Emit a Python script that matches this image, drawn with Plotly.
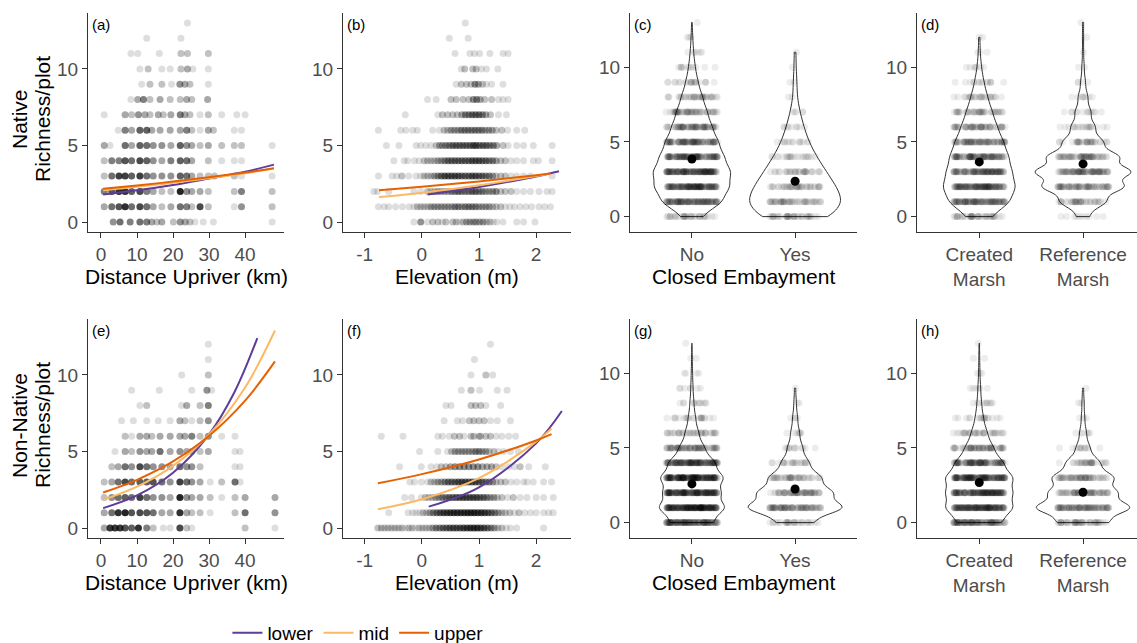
import numpy as np
import plotly.graph_objects as go

# ======================= DATA =======================
# Scatter panels: one list per richness value (index = richness 0, 1, 2, ...);
# each entry = (predictor value, number of overlapping plots at that spot)

# (a) Native richness vs distance upriver (km)
native_dist = [
    [(3.4,4),(5.3,6),(8.1,5),(10.8,6),(12.7,5),(14.1,3),(15.5,2),(16.9,3),(20.1,2),(22.0,4),(23.4,3),(24.7,2),(26.1,1),(28.4,1),(31.2,1),(47.5,1)],
    [(0.9,3),(3.0,6),(5.0,8),(6.7,12),(8.5,6),(10.8,9),(12.7,6),(14.5,3),(16.9,2),(19.4,3),(22.0,6),(23.8,5),(25.2,2),(27.5,9),(29.8,2),(37.0,1),(39.0,4),(47.5,2)],
    [(0.9,5),(3.0,8),(5.0,12),(6.7,12),(8.5,7),(10.8,9),(12.7,5),(14.5,3),(16.9,2),(19.4,2),(22.0,14),(23.8,4),(25.2,3),(27.5,3),(29.8,2),(37.0,2),(39.0,5),(47.5,2)],
    [(0.9,2),(3.0,6),(5.0,10),(6.7,10),(8.5,7),(10.8,10),(12.7,6),(14.5,4),(16.9,4),(19.4,4),(22.0,7),(23.8,6),(25.2,3),(27.5,2),(29.8,2),(31.5,2),(37.0,2),(39.0,1),(47.5,1)],
    [(0.9,2),(3.0,5),(5.0,5),(6.7,8),(8.5,6),(10.8,9),(12.7,7),(14.5,4),(16.9,3),(19.4,5),(22.0,7),(23.8,6),(25.2,3),(29.8,2),(33.5,1),(37.0,1),(39.0,1)],
    [(0.9,3),(2.5,1),(6.7,6),(8.5,3),(10.8,7),(12.7,6),(14.5,4),(16.9,4),(19.4,3),(22.0,7),(23.8,4),(25.2,3),(27.5,2),(29.8,3),(33.5,2),(37.0,2),(39.0,2),(47.5,1)],
    [(4.8,1),(6.7,5),(8.5,3),(10.8,7),(12.7,7),(14.1,3),(16.4,3),(19.2,3),(22.0,3),(23.8,5),(25.2,2),(27.5,1),(29.8,3),(31.2,2),(37.0,1),(39.0,1)],
    [(0.9,1),(6.7,3),(8.5,2),(10.4,4),(12.2,3),(13.6,2),(15.9,3),(17.3,2),(19.4,3),(22.0,5),(23.3,3),(24.7,2),(27.5,1),(29.8,2),(33.5,1),(37.7,1),(40.0,1)],
    [(8.3,1),(10.2,3),(11.8,5),(13.6,2),(16.4,3),(19.2,2),(22.0,2),(23.8,3),(25.2,2),(29.6,3)],
    [(11.3,1),(13.6,2),(16.9,2),(19.6,1),(21.9,4),(23.3,3),(24.7,2),(29.8,1)],
    [(10.8,1),(13.1,2),(16.9,1),(19.2,1),(22.2,2),(24.0,3),(25.5,1),(29.8,1)],
    [(8.3,1),(10.2,1),(16.2,1),(22.2,2),(24.0,2),(29.8,2)],
    [(12.7,1),(22.2,1)],
    [(24.0,1)],
]

# (b) Native richness vs elevation (cm)
native_elev = [
    [(-14,1),(-2,4),(10,1),(19,2),(28,2),(36,1),(42,2),(54,2),(60,2),(66,1),(72,2),(78,3),(84,3),(90,3),(95,3),(101,3),(107,3),(113,2),(119,2),(125,1),(131,1),(142,1),(166,1),(178,1),(198,1)],
    [(-76,1),(-66,1),(-58,1),(-46,1),(-34,1),(-22,1),(-14,1),(-8,2),(-2,2),(4,2),(10,2),(16,3),(22,3),(28,3),(34,3),(40,3),(46,3),(52,3),(58,4),(64,4),(70,3),(76,4),(82,4),(88,4),(94,4),(100,3),(106,3),(112,3),(118,3),(124,2),(130,2),(138,2),(146,1),(154,1),(162,1),(172,1),(182,1),(192,1),(205,1),(215,1),(225,1)],
    [(-84,1),(-78,1),(-58,1),(-14,1),(-2,1),(10,2),(16,2),(22,2),(28,3),(34,3),(40,3),(46,3),(52,4),(58,4),(64,5),(70,4),(76,4),(82,4),(88,5),(94,5),(100,4),(106,4),(112,3),(118,3),(124,3),(130,4),(138,2),(146,2),(156,2),(166,1),(178,1),(190,1),(205,1),(219,1),(228,1)],
    [(-76,1),(-52,1),(-44,1),(-35,2),(-23,1),(-10,1),(-2,1),(4,2),(10,2),(16,2),(22,3),(28,4),(34,5),(40,6),(46,6),(52,6),(58,6),(64,6),(70,5),(76,5),(82,5),(88,6),(94,6),(100,5),(106,5),(112,4),(118,4),(124,3),(130,2),(138,2),(146,2),(156,1),(166,1),(178,1),(190,1),(228,1)],
    [(-49,1),(-31,1),(-25,1),(-13,1),(-5,1),(4,2),(10,2),(16,2),(22,2),(28,3),(34,3),(40,4),(46,5),(52,5),(58,5),(64,5),(70,5),(76,5),(82,5),(88,6),(94,6),(100,6),(106,5),(112,5),(118,4),(124,4),(130,3),(138,2),(146,2),(156,1),(166,1),(178,1),(195,1),(204,1),(228,1)],
    [(-62,1),(-40,1),(-10,1),(-2,1),(7,1),(16,1),(25,2),(31,3),(36,3),(42,4),(48,4),(54,5),(60,5),(66,5),(72,5),(78,5),(84,5),(90,6),(95,6),(101,5),(107,5),(113,5),(119,4),(125,4),(131,3),(142,2),(151,1),(166,1),(178,1),(195,1),(228,1)],
    [(-76,1),(-37,1),(-28,1),(-16,1),(-8,1),(19,1),(31,1),(39,2),(45,2),(51,3),(57,3),(63,3),(69,4),(75,4),(81,4),(87,4),(93,4),(99,4),(105,4),(111,3),(117,3),(123,3),(130,2),(140,2),(150,1),(166,1),(180,1)],
    [(-29,1),(28,1),(36,2),(45,2),(54,2),(62,2),(70,3),(76,4),(82,4),(88,5),(94,5),(100,5),(106,4),(112,3),(120,2),(134,1),(148,1)],
    [(10,1),(25,1),(51,2),(60,2),(72,2),(82,2),(90,4),(96,4),(102,3),(110,2),(122,2),(134,1),(142,1),(151,1)],
    [(60,1),(69,2),(78,2),(86,2),(93,4),(99,3),(106,2),(113,1),(122,1),(142,1)],
    [(69,1),(75,2),(89,2),(95,2),(104,1),(113,1),(133,1)],
    [(58,1),(84,1),(92,1),(101,1),(119,1),(142,1),(151,1)],
    [(48,1),(81,1)],
    [(76,1)],
]

# (e) Non-native richness vs distance upriver (km)
nonnative_dist = [
    [(0.9,3),(2.5,11),(3.9,11),(5.3,11),(6.7,8),(8.5,7),(10.4,12),(12.7,5),(14.5,2),(17.3,1),(19.2,1),(21.9,9),(23.8,2),(25.2,1),(40.0,2),(48.3,1)],
    [(0.9,3),(3.0,6),(4.8,12),(6.7,14),(8.5,8),(10.8,9),(12.7,8),(14.5,6),(16.9,3),(19.2,3),(21.9,12),(23.8,3),(25.2,2),(27.5,2),(30.3,1),(37.2,2),(40.0,6),(48.3,4)],
    [(0.9,2),(3.0,4),(4.8,6),(6.7,7),(8.5,6),(10.8,10),(12.7,6),(14.5,4),(16.9,4),(19.2,3),(21.9,14),(23.8,4),(25.2,3),(27.5,3),(30.3,2),(33.5,1),(37.2,2),(40.0,3),(48.3,3)],
    [(0.9,2),(3.0,3),(4.8,6),(6.7,9),(8.5,6),(10.8,7),(12.7,7),(14.5,8),(16.9,6),(19.2,4),(21.9,10),(23.8,6),(25.2,4),(27.5,3),(30.3,1),(33.5,2),(37.2,6),(38.6,1)],
    [(3.0,2),(4.8,3),(6.7,6),(8.5,4),(10.8,9),(12.7,6),(14.5,4),(16.9,4),(19.2,3),(21.9,6),(23.8,4),(25.2,4),(27.5,2),(37.2,1),(38.6,1)],
    [(3.9,1),(6.7,3),(8.5,2),(10.8,4),(12.7,3),(14.1,3),(16.4,6),(19.2,3),(21.9,4),(23.8,3),(25.2,3),(27.5,2),(29.8,3),(37.2,1),(38.6,1)],
    [(6.7,2),(8.5,1),(10.8,3),(12.7,3),(14.1,2),(16.4,3),(19.2,3),(21.9,3),(23.3,3),(25.2,5),(27.5,2),(29.8,4),(33.5,1),(37.2,1)],
    [(5.7,1),(9.0,1),(12.7,1),(15.9,1),(19.2,1),(21.9,3),(23.3,2),(25.2,1),(27.5,2),(29.8,4)],
    [(10.8,1),(12.7,2),(22.4,1),(23.8,3),(27.5,2),(29.8,5)],
    [(8.5,1),(16.2,1),(25.2,1),(29.4,4),(30.7,1)],
    [(22.4,1),(29.8,2)],
    [(29.8,1)],
    [(29.8,1)],
]

# (f) Non-native richness vs elevation (cm)
nonnative_elev = [
    [(-77,2),(-71,2),(-65,2),(-59,2),(-53,2),(-47,2),(-41,2),(-35,2),(-29,1),(-23,2),(-17,2),(-11,1),(-5,2),(1,2),(7,2),(13,2),(19,3),(25,4),(31,4),(37,5),(43,5),(49,6),(55,6),(61,6),(67,6),(73,7),(79,7),(85,8),(91,8),(97,8),(103,7),(109,6),(115,5),(121,4),(127,3),(133,2),(140,2),(148,1),(155,1),(166,1),(213,1)],
    [(-58,1),(-24,1),(-16,1),(-10,1),(-4,1),(2,2),(8,2),(14,3),(20,4),(26,5),(32,6),(38,7),(44,7),(50,8),(56,8),(62,8),(68,8),(74,8),(80,9),(86,9),(92,9),(98,8),(104,8),(110,7),(116,6),(122,5),(128,4),(134,3),(140,2),(146,2),(154,2),(162,1),(170,2),(180,1),(190,1),(200,1),(213,1),(222,1),(230,1)],
    [(-30,1),(-18,1),(-1,1),(6,2),(12,2),(18,2),(24,3),(30,3),(36,4),(42,4),(48,5),(54,5),(60,6),(66,6),(72,6),(78,6),(84,6),(90,6),(96,6),(102,5),(108,5),(114,4),(120,3),(126,3),(132,2),(140,2),(150,1),(160,2),(172,1),(184,1),(200,1),(213,1),(230,1)],
    [(-21,1),(-13,1),(-1,1),(10,1),(16,2),(22,2),(28,3),(34,3),(40,4),(46,5),(52,5),(58,5),(64,6),(70,6),(76,6),(82,6),(88,6),(94,6),(100,5),(106,5),(112,4),(118,4),(124,3),(130,2),(138,2),(146,2),(156,1),(166,1),(178,1),(184,1),(195,1),(213,1),(227,1)],
    [(-39,1),(-1,1),(16,1),(26,1),(34,2),(42,2),(50,3),(58,4),(66,4),(74,4),(82,4),(90,4),(98,4),(106,3),(114,3),(122,3),(130,2),(140,1),(152,1),(162,1),(172,2),(187,1),(216,1)],
    [(-4,1),(28,1),(45,1),(52,2),(58,3),(64,3),(70,3),(76,3),(82,3),(88,3),(94,4),(100,4),(106,3),(112,3),(118,2),(126,2),(134,1),(143,1),(155,1),(169,1)],
    [(-71,1),(-33,1),(28,1),(36,1),(48,1),(57,2),(66,2),(74,1),(86,2),(91,2),(100,2),(103,2),(112,2),(120,2),(130,1),(140,1),(152,1),(164,1)],
    [(39,1),(62,1),(71,1),(83,2),(91,2),(100,2),(109,2),(120,1),(132,1),(155,1)],
    [(42,1),(51,1),(86,2),(94,2),(103,2),(112,1),(138,1)],
    [(69,1),(86,2),(101,1),(132,1),(149,1)],
    [(86,1),(112,2),(124,1)],
    [(92,1)],
    [(120,1)],
]

# Fitted curves
native_dist_x = [0.6, 10, 20, 30, 40, 48.0]
native_dist_lower = [1.80, 2.07, 2.42, 2.84, 3.28, 3.75]
native_dist_mid = [2.08, 2.30, 2.56, 2.86, 3.19, 3.50]
native_dist_upper = [2.17, 2.39, 2.64, 2.92, 3.23, 3.52]

native_elev_x = [-0.75, 0, 1, 2, 2.25]
native_elev_mid = [1.63, 1.92, 2.40, 3.00, 3.17]
native_elev_upper = [2.08, 2.31, 2.65, 3.06, 3.17]
native_elev_lower_x = [0.1, 1, 2, 2.4]
native_elev_lower = [1.80, 2.29, 2.98, 3.32]

nonnative_dist_x = [0.6, 10, 20, 30, 40, 48.3]
nonnative_dist_mid = [1.84, 2.70, 4.06, 6.11, 9.18, 12.9]
nonnative_dist_upper = [2.32, 3.15, 4.35, 6.02, 8.32, 10.88]
nonnative_dist_lower_x = [0.6, 10, 20, 30, 37, 43.4]
nonnative_dist_lower = [1.30, 2.13, 3.61, 6.12, 8.85, 12.4]

nonnative_elev_x = [-0.77, 0, 1, 2, 2.27]
nonnative_elev_mid = [1.23, 1.88, 3.26, 5.64, 6.50]
nonnative_elev_upper = [2.92, 3.52, 4.48, 5.72, 6.13]
nonnative_elev_lower_x = [0.12, 1, 2, 2.45]
nonnative_elev_lower = [1.40, 2.66, 5.53, 7.64]

# Violin panels: number of plots with richness 0, 1, 2, ...
embay_labels = ["No", "Yes"]
marsh_labels = ["Created<br>Marsh", "Reference<br>Marsh"]
dist_ticks = [0, 10, 20, 30, 40]
elev_ticks = [-1, 0, 1, 2]
elev_tick_text = ["-1", "0", "1", "2"]
richness_ticks = [0, 5, 10]
native_embay_no = [35, 110, 135, 140, 115, 95, 72, 55, 38, 22, 12, 6, 3, 1]
native_embay_yes = [38, 50, 42, 32, 22, 14, 9, 5, 2, 2, 1, 1]
native_marsh_created = [40, 100, 118, 105, 95, 78, 58, 42, 27, 15, 7, 3, 2]
native_marsh_reference = [10, 38, 68, 80, 60, 33, 20, 13, 8, 4, 2, 1, 1, 1]
nonnative_embay_no = [130, 200, 170, 190, 140, 75, 40, 22, 12, 7, 4, 2, 1]
nonnative_embay_yes = [28, 78, 60, 42, 22, 12, 7, 4, 2, 1]
nonnative_marsh_created = [100, 150, 145, 150, 105, 62, 35, 18, 10, 6, 3, 2, 1]
nonnative_marsh_reference = [45, 85, 60, 55, 30, 12, 6, 3, 2, 1]
# group means (black dots)
native_embay_mean = [3.86, 2.37]
native_marsh_mean = [3.66, 3.53]
nonnative_embay_mean = [2.59, 2.25]
nonnative_marsh_mean = [2.68, 2.03]

# ======================= STYLE / LAYOUT =======================
W, H = 1137, 643
FONT = "Liberation Sans, Arial, Helvetica, sans-serif"
COL = {"lower": "#5E3C99", "mid": "#FDB863", "upper": "#E66101"}
ALPHA = 0.13
AXC = "#333333"
TICKC = "#4D4D4D"
col_px = [(88, 284), (343, 571), (630, 857), (917, 1137)]
row_px = [(13, 232), (319, 538)]

fig = go.Figure()


def ax_names(i):
    s = "" if i == 1 else str(i)
    return "x" + s, "y" + s


def add_points(levels, scale, i):
    xa, ya = ax_names(i)
    xs, ys, ops = [], [], []
    for r, pts in enumerate(levels):
        for x, n in pts:
            xs.append(x * scale)
            ys.append(r)
            ops.append(1 - (1 - ALPHA) ** n)
    fig.add_trace(go.Scatter(x=xs, y=ys, mode="markers",
                             marker=dict(color="black", size=7, opacity=ops, line=dict(width=0)),
                             xaxis=xa, yaxis=ya, showlegend=False, hoverinfo="skip"))


def add_curve(x, y, grp, i, show=False):
    xa, ya = ax_names(i)
    fig.add_trace(go.Scatter(x=x, y=y, mode="lines", name=grp, legendgroup=grp, showlegend=show,
                             line=dict(color=COL[grp], width=2, shape="spline"),
                             xaxis=xa, yaxis=ya, hoverinfo="skip"))


def add_violin(counts, pos, width, i):
    xa, ya = ax_names(i)
    vals = np.repeat(np.arange(len(counts)), counts).astype(float)
    sd = vals.std(ddof=1)
    q75, q25 = np.percentile(vals, [75, 25])
    bw = 0.9 * min(sd, (q75 - q25) / 1.34) * len(vals) ** (-0.2)
    fig.add_trace(go.Violin(x0=pos, y=vals, width=width, bandwidth=bw, spanmode="hard",
                            scalemode="width", points="all", pointpos=0, jitter=0.50 / width,
                            marker=dict(color="black", opacity=0.07, size=7, line=dict(width=0)),
                            line=dict(color=AXC, width=1), fillcolor="rgba(0,0,0,0)",
                            box_visible=False, meanline_visible=False,
                            xaxis=xa, yaxis=ya, showlegend=False, hoverinfo="skip"))


def add_mean(means, i):
    xa, ya = ax_names(i)
    fig.add_trace(go.Scatter(x=[0, 1], y=means, mode="markers",
                             marker=dict(color="black", size=9), xaxis=xa, yaxis=ya,
                             showlegend=False, hoverinfo="skip"))


# (a)
add_points(native_dist, 1, 1)
add_curve(native_dist_x, native_dist_lower, "lower", 1)
add_curve(native_dist_x, native_dist_mid, "mid", 1)
add_curve(native_dist_x, native_dist_upper, "upper", 1)
# (b)
add_points(native_elev, 0.01, 2)
add_curve(native_elev_lower_x, native_elev_lower, "lower", 2)
add_curve(native_elev_x, native_elev_mid, "mid", 2)
add_curve(native_elev_x, native_elev_upper, "upper", 2)
# (c)
add_violin(native_embay_no, 0, 0.75, 3)
add_violin(native_embay_yes, 1, 0.88, 3)
add_mean(native_embay_mean, 3)
# (d)
add_violin(native_marsh_created, 0, 0.69, 4)
add_violin(native_marsh_reference, 1, 0.92, 4)
add_mean(native_marsh_mean, 4)
# (e)
add_points(nonnative_dist, 1, 5)
add_curve(nonnative_dist_lower_x, nonnative_dist_lower, "lower", 5, True)
add_curve(nonnative_dist_x, nonnative_dist_mid, "mid", 5, True)
add_curve(nonnative_dist_x, nonnative_dist_upper, "upper", 5, True)
# (f)
add_points(nonnative_elev, 0.01, 6)
add_curve(nonnative_elev_lower_x, nonnative_elev_lower, "lower", 6)
add_curve(nonnative_elev_x, nonnative_elev_mid, "mid", 6)
add_curve(nonnative_elev_x, nonnative_elev_upper, "upper", 6)
# (g)
add_violin(nonnative_embay_no, 0, 0.63, 7)
add_violin(nonnative_embay_yes, 1, 0.91, 7)
add_mean(nonnative_embay_mean, 7)
# (h)
add_violin(nonnative_marsh_created, 0, 0.65, 8)
add_violin(nonnative_marsh_reference, 1, 0.90, 8)
add_mean(nonnative_marsh_mean, 8)

panel_kind = ["dist", "elev", "embay", "marsh"] * 2
xranges = {"dist": [-3.6, 50.8], "elev": [-1.38, 2.61], "embay": [-0.6, 1.6], "marsh": [-0.6, 1.52]}
layout = dict(width=W, height=H, autosize=False,
              margin=dict(l=0, r=0, t=0, b=0, autoexpand=False),
              paper_bgcolor="white", plot_bgcolor="white", hovermode=False,
              violinmode="overlay", font=dict(family=FONT, color="black"),
              showlegend=True,
              legend=dict(orientation="h", x=0.2, y=1 - 633 / H, xanchor="left", yanchor="middle",
                          font=dict(size=19, color="black"), bgcolor="rgba(0,0,0,0)",
                          itemwidth=30, tracegroupgap=0))
annotations = []
labels = ["(a)", "(b)", "(c)", "(d)", "(e)", "(f)", "(g)", "(h)"]
for i in range(1, 9):
    r = (i - 1) // 4
    c = (i - 1) % 4
    kind = panel_kind[i - 1]
    s = "" if i == 1 else str(i)
    x0, x1 = col_px[c]
    top, bot = row_px[r]
    xa = dict(domain=[x0 / W, x1 / W], anchor="y" + s, range=xranges[kind],
              showline=True, linecolor=AXC, linewidth=1, ticks="outside", ticklen=5,
              tickcolor=AXC, tickwidth=1, showgrid=False, zeroline=False,
              tickfont=dict(size=19, color=TICKC, family=FONT))
    if kind == "dist":
        xa.update(tickvals=dist_ticks)
    elif kind == "elev":
        xa.update(tickvals=elev_ticks, ticktext=elev_tick_text)
    elif kind == "embay":
        xa.update(tickvals=[0, 1], ticktext=embay_labels)
    else:
        xa.update(tickvals=[0, 1], ticktext=marsh_labels)
    yr = [-0.65, 13.65] if kind in ("dist", "elev") else [-1.03, 13.63]
    ya = dict(domain=[1 - bot / H, 1 - top / H], anchor="x" + s, range=yr,
              showline=True, linecolor=AXC, linewidth=1, ticks="outside", ticklen=5,
              tickcolor=AXC, tickwidth=1, showgrid=False, zeroline=False,
              tickvals=richness_ticks, tickfont=dict(size=19, color=TICKC, family=FONT))
    layout["xaxis" + s] = xa
    layout["yaxis" + s] = ya
    annotations.append(dict(text=labels[i - 1], xref="paper", yref="paper",
                            x=(x0 + 2) / W, y=1 - (top + 1) / H, xanchor="left", yanchor="top",
                            showarrow=False, font=dict(size=15, color="black", family=FONT)))

# axis titles
xtitles = ["Distance Upriver (km)", "Elevation (m)", "Closed Embayment"]
for r in range(2):
    bot = row_px[r][1]
    for c in range(3):
        x0, x1 = col_px[c]
        annotations.append(dict(text=xtitles[c], xref="paper", yref="paper",
                                x=(x0 + x1) / 2 / W, y=1 - (bot + 44) / H,
                                xanchor="center", yanchor="middle", showarrow=False,
                                font=dict(size=21, color="black", family=FONT)))
ytitle_lines = [("Native", "Richness/plot"), ("Non-Native", "Richness/plot")]
for r in range(2):
    top, bot = row_px[r]
    yc = 1 - ((top + bot) / 2 - 3) / H
    for k, txt in enumerate(ytitle_lines[r]):
        annotations.append(dict(text=txt, xref="paper", yref="paper",
                                x=(19.5 + 23 * k) / W, y=yc, xanchor="center", yanchor="middle",
                                textangle=-90, showarrow=False,
                                font=dict(size=21, color="black", family=FONT)))
layout["annotations"] = annotations
fig.update_layout(**layout)
fig.write_html("out.html", config={"displayModeBar": False, "responsive": False},
               post_script="document.body.style.margin='0px';document.body.style.overflow='hidden';")
